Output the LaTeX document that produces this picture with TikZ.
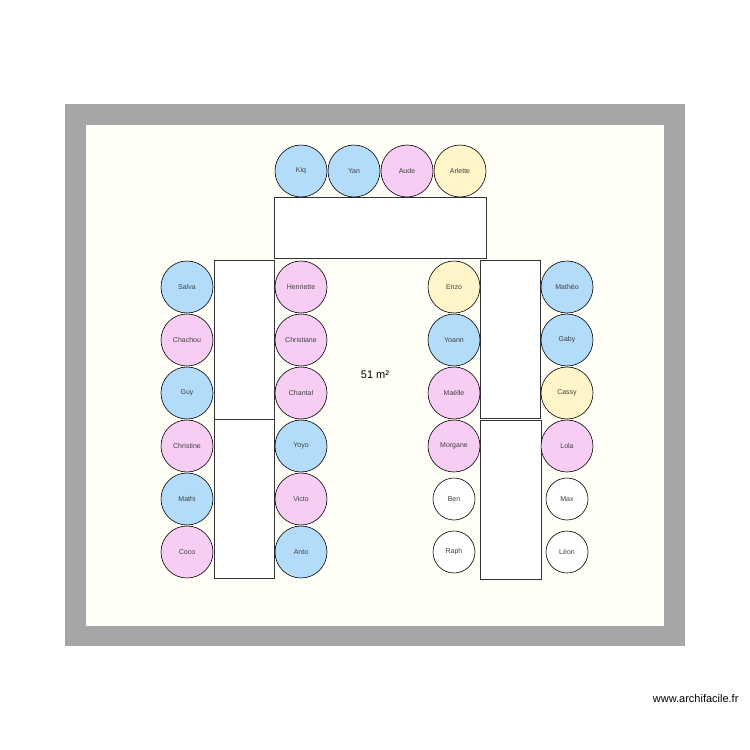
\documentclass[tikz,border=0pt]{standalone}
\usepackage{fontspec}
\setmainfont{Liberation Sans}
\definecolor{seatblue}{HTML}{B3DCFB}
\definecolor{seatpink}{HTML}{F8CDF3}
\definecolor{seatyellow}{HTML}{FFF5C8}
\begin{document}
\begin{tikzpicture}[x=1pt,y=-1pt,
  seat/.style={circle,draw=black,line width=0.6pt,minimum size=52pt,inner sep=0pt,font=\fontsize{7}{8}\selectfont,text=black!75},
  small/.style={seat,minimum size=42pt,fill=white},
  bl/.style={seat,fill=seatblue},
  pk/.style={seat,fill=seatpink},
  ye/.style={seat,fill=seatyellow},
  tbl/.style={draw=black!80,fill=white,line width=0.6pt}]
\useasboundingbox (0,0) rectangle (750,750);
\fill[white] (0,0) rectangle (750,750);
\fill[black!35] (65,104) rectangle (685,646);
\fill[yellow!3] (86,125) rectangle (664,626);
\draw[tbl] (274,197) rectangle (486,258);
\draw[tbl] (214,260) rectangle (274,419);
\draw[tbl] (214,419) rectangle (274,578);
\draw[tbl] (480,260) rectangle (540,418);
\draw[tbl] (480,420) rectangle (541,579);
\node[bl] (kiq) at (301,171) {Kiq};
\node[bl] (yan) at (354,171) {Yan};
\node[pk] (aude) at (407,171) {Aude};
\node[ye] (arl) at (460,171) {Arlette};
\node[bl] (salva) at (187,287) {Salva};
\node[pk] (chach) at (187,340) {Chachou};
\node[bl] (guy) at (187,393) {Guy};
\node[pk] (chris) at (187,446) {Christine};
\node[bl] (mathi) at (187,499) {Mathi};
\node[pk] (coco) at (187,552) {Coco};
\node[pk] (henr) at (301,287) {Henriette};
\node[pk] (chrn) at (301,340) {Christiane};
\node[pk] (chan) at (301,393) {Chantal};
\node[bl] (yoyo) at (301,446) {Yoyo};
\node[pk] (victo) at (301,499) {Victo};
\node[bl] (anto) at (301,552) {Anto};
\node[ye] (enzo) at (454,287) {Enzo};
\node[bl] (yoann) at (454,340) {Yoann};
\node[pk] (mael) at (454,393) {Maëlle};
\node[pk] (morg) at (454,446) {Morgane};
\node[small] (ben) at (454,499) {Ben};
\node[small] (raph) at (454,552) {Raph};
\node[bl] (math) at (567,287) {Mathéo};
\node[bl] (gaby) at (567,340) {Gaby};
\node[ye] (cassy) at (567,393) {Cassy};
\node[pk] (lola) at (567,446) {Lola};
\node[small] (max) at (567,499) {Max};
\node[small] (leon) at (567,552) {Léon};
\node[font=\fontsize{11}{12}\selectfont] (area) at (375,375) {51 m²};
\node[font=\fontsize{11}{13}\selectfont,anchor=east] (wm) at (742,699) {www.archifacile.fr};
\end{tikzpicture}
\end{document}
